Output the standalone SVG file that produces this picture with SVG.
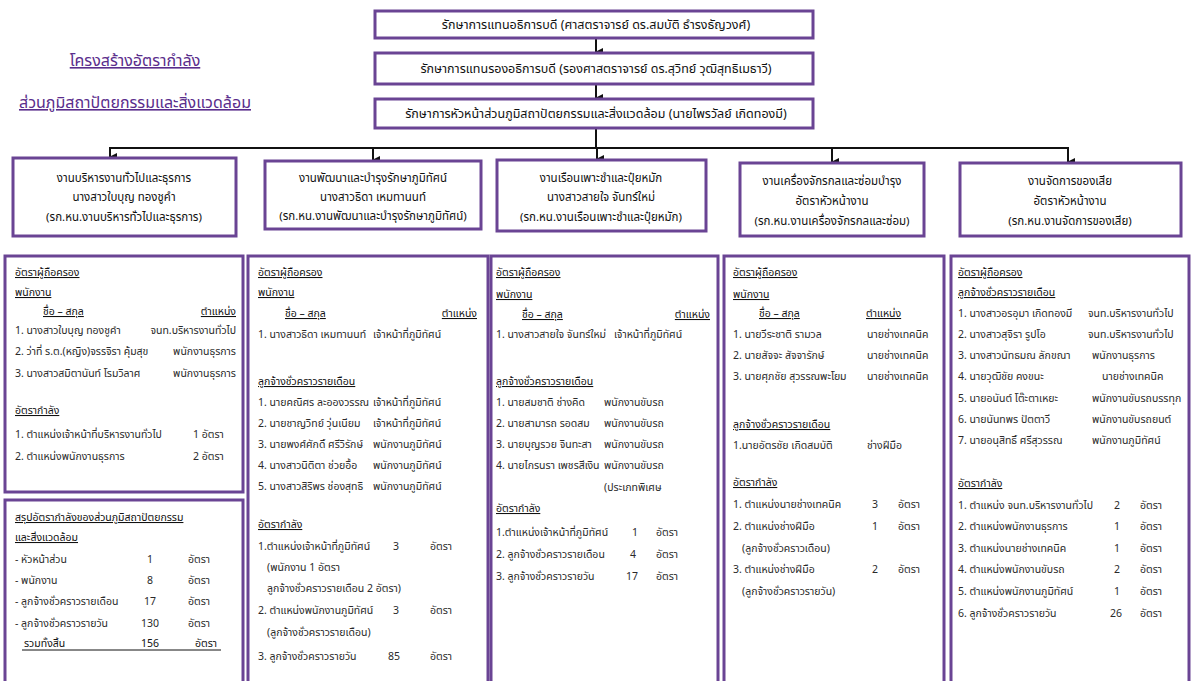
<svg xmlns="http://www.w3.org/2000/svg" width="1196" height="681" viewBox="0 0 1196 681">
<defs>
<marker id="ah" markerWidth="8" markerHeight="8" refX="4" refY="7" orient="auto" markerUnits="userSpaceOnUse" viewBox="0 0 8 8">
<path d="M0,0 L8,0 L4,8 Z" fill="#111"/>
</marker>
<style>
text{font-family:"Noto Sans Thai","Noto Sans","Liberation Sans",sans-serif;fill:#2a2a2a;font-size:10.5px}
.box{fill:#fff;stroke:#6a4494;stroke-width:3}
.top{font-size:12.5px;fill:#111}
.hd{font-size:11.5px;fill:#111}
.ttl{font-size:16px;fill:#5a2d8c;text-decoration:underline}
.u{text-decoration:underline;fill:#111}
.c{text-anchor:middle}
.e{text-anchor:end}
.ln{stroke:#111;stroke-width:2;fill:none}
</style>
</defs>
<rect width="1196" height="681" fill="#fff"/>

<g id="title">
<text class="ttl c" x="135" y="66">โครงสร้างอัตรากำลัง</text>
<text class="ttl c" x="135" y="108">ส่วนภูมิสถาปัตยกรรมและสิ่งแวดล้อม</text>
</g>

<g id="connectors">
<line class="ln" x1="596" y1="38" x2="596" y2="52" marker-end="url(#ah)"/>
<line class="ln" x1="596" y1="84" x2="596" y2="98" marker-end="url(#ah)"/>
<line class="ln" x1="596" y1="128" x2="596" y2="148"/>
<line class="ln" x1="110" y1="148" x2="1068" y2="148"/>
<line class="ln" x1="110" y1="147" x2="110" y2="157" marker-end="url(#ah)"/>
<line class="ln" x1="373" y1="147" x2="373" y2="160" marker-end="url(#ah)"/>
<line class="ln" x1="597" y1="147" x2="597" y2="159" marker-end="url(#ah)"/>
<line class="ln" x1="832" y1="147" x2="832" y2="162" marker-end="url(#ah)"/>
<line class="ln" x1="1068" y1="147" x2="1068" y2="162" marker-end="url(#ah)"/>
</g>

<g id="n-top1">
<rect class="box" x="375" y="11" width="438" height="27"/>
<text class="top c" x="596" y="29">รักษาการแทนอธิการบดี (ศาสตราจารย์ ดร.สมบัติ  ธำรงธัญวงศ์)</text>
</g>
<g id="n-top2">
<rect class="box" x="375" y="53" width="438" height="31"/>
<text class="top c" x="596" y="73">รักษาการแทนรองอธิการบดี (รองศาสตราจารย์ ดร.สุวิทย์  วุฒิสุทธิเมธาวี)</text>
</g>
<g id="n-top3">
<rect class="box" x="375" y="99" width="438" height="29"/>
<text class="top c" x="596" y="118">รักษาการหัวหน้าส่วนภูมิสถาปัตยกรรมและสิ่งแวดล้อม (นายไพรวัลย์  เกิดทองมี)</text>
</g>

<g id="n-a">
<rect class="box" x="13" y="158" width="223" height="78"/>
<text class="hd c" x="124" y="182">งานบริหารงานทั่วไปและธุรการ</text>
<text class="hd c" x="124" y="201">นางสาวใบบุญ  ทองชูคำ</text>
<text class="hd c" x="124" y="221">(รก.หน.งานบริหารทั่วไปและธุรการ)</text>
</g>
<g id="n-b">
<rect class="box" x="265" y="161" width="216" height="68"/>
<text class="hd c" x="373" y="182">งานพัฒนาและบำรุงรักษาภูมิทัศน์</text>
<text class="hd c" x="373" y="201">นางสาวธิดา  เหมทานนท์</text>
<text class="hd c" x="373" y="220">(รก.หน.งานพัฒนาและบำรุงรักษาภูมิทัศน์)</text>
</g>
<g id="n-c">
<rect class="box" x="497" y="160" width="209" height="71"/>
<text class="hd c" x="601" y="182">งานเรือนเพาะชำและปุ๋ยหมัก</text>
<text class="hd c" x="601" y="201">นางสาวสายใจ  จันทร์ใหม่</text>
<text class="hd c" x="601" y="221">(รก.หน.งานเรือนเพาะชำและปุ๋ยหมัก)</text>
</g>
<g id="n-d">
<rect class="box" x="740" y="163" width="184" height="73"/>
<text class="hd c" x="832" y="185">งานเครื่องจักรกลและซ่อมบำรุง</text>
<text class="hd c" x="832" y="205">อัตราหัวหน้างาน</text>
<text class="hd c" x="832" y="225">(รก.หน.งานเครื่องจักรกลและซ่อม)</text>
</g>
<g id="n-e">
<rect class="box" x="960" y="163" width="221" height="73"/>
<text class="hd c" x="1070" y="185">งานจัดการของเสีย</text>
<text class="hd c" x="1070" y="205">อัตราหัวหน้างาน</text>
<text class="hd c" x="1070" y="225">(รก.หน.งานจัดการของเสีย)</text>
</g>

<g id="col1">
<rect class="box" x="5" y="256" width="238" height="236"/>
<text class="u" x="15" y="276">อัตราผู้ถือครอง</text>
<text class="u" x="15" y="296">พนักงาน</text>
<text class="u" x="43" y="315">ชื่อ – สกุล</text>
<text class="u e" x="236" y="315">ตำแหน่ง</text>
<text x="15" y="334">1. นางสาวใบบุญ  ทองชูคำ</text><text class="e" x="236" y="334">จนท.บริหารงานทั่วไป</text>
<text x="15" y="355">2. ว่าที่ ร.ต.(หญิง)จรรจิรา  คุ้มสุข</text><text class="e" x="236" y="355">พนักงานธุรการ</text>
<text x="15" y="377">3. นางสาวสมิตานันท์  โรมวิลาศ</text><text class="e" x="236" y="377">พนักงานธุรการ</text>
<text class="u" x="15" y="414">อัตรากำลัง</text>
<text x="15" y="438">1. ตำแหน่งเจ้าหน้าที่บริหารงานทั่วไป</text><text x="193" y="438">1 อัตรา</text>
<text x="15" y="460">2. ตำแหน่งพนักงานธุรการ</text><text x="193" y="460">2 อัตรา</text>
</g>

<g id="col1-summary">
<rect class="box" x="5" y="500" width="238" height="190"/>
<text class="u" x="15" y="521">สรุปอัตรากำลังของส่วนภูมิสถาปัตยกรรม</text>
<text class="u" x="15" y="541">และสิ่งแวดล้อม</text>
<text x="15" y="563">- หัวหน้าส่วน</text><text class="c" x="150" y="563">1</text><text x="188" y="563">อัตรา</text>
<text x="15" y="584">- พนักงาน</text><text class="c" x="150" y="584">8</text><text x="188" y="584">อัตรา</text>
<text x="15" y="605">- ลูกจ้างชั่วคราวรายเดือน</text><text class="c" x="150" y="605">17</text><text x="188" y="605">อัตรา</text>
<text x="15" y="627">- ลูกจ้างชั่วคราวรายวัน</text><text class="c" x="150" y="627">130</text><text x="188" y="627">อัตรา</text>
<text x="24" y="647" style="fill:#111">รวมทั้งสิ้น</text><text class="c" x="150" y="647" style="fill:#111">156</text><text x="195" y="647" style="fill:#111">อัตรา</text>
<line x1="22" y1="650" x2="221" y2="650" stroke="#111" stroke-width="1"/>
</g>

<g id="col2">
<rect class="box" x="248" y="256" width="240" height="434"/>
<text class="u" x="258" y="276">อัตราผู้ถือครอง</text>
<text class="u" x="258" y="296">พนักงาน</text>
<text class="u" x="285" y="317">ชื่อ – สกุล</text>
<text class="u e" x="477" y="317">ตำแหน่ง</text>
<text x="258" y="338">1. นางสาวธิดา  เหมทานนท์</text><text x="373" y="338">เจ้าหน้าที่ภูมิทัศน์</text>
<text class="u" x="258" y="385">ลูกจ้างชั่วคราวรายเดือน</text>
<text x="258" y="406">1. นายคณิศร  ละอองวรรณ</text><text x="373" y="406">เจ้าหน้าที่ภูมิทัศน์</text>
<text x="258" y="427">2. นายชาญวิทย์  วุ่นเนียม</text><text x="373" y="427">เจ้าหน้าที่ภูมิทัศน์</text>
<text x="258" y="448">3. นายพงศ์ศักดิ์  ศรีวิรักษ์</text><text x="373" y="448">พนักงานภูมิทัศน์</text>
<text x="258" y="469">4. นางสาวนิติตา ช่วยอื้อ</text><text x="373" y="469">พนักงานภูมิทัศน์</text>
<text x="258" y="490">5. นางสาวสิริพร  ช่องสุทธิ</text><text x="373" y="490">พนักงานภูมิทัศน์</text>
<text class="u" x="258" y="528">อัตรากำลัง</text>
<text x="258" y="550">1.ตำแหน่งเจ้าหน้าที่ภูมิทัศน์</text><text x="393" y="550">3</text><text x="430" y="550">อัตรา</text>
<text x="267" y="571">(พนักงาน 1 อัตรา</text>
<text x="267" y="592">ลูกจ้างชั่วคราวรายเดือน 2 อัตรา)</text>
<text x="258" y="614">2. ตำแหน่งพนักงานภูมิทัศน์</text><text x="393" y="614">3</text><text x="430" y="614">อัตรา</text>
<text x="267" y="636">(ลูกจ้างชั่วคราวรายเดือน)</text>
<text x="258" y="660">3. ลูกจ้างชั่วคราวรายวัน</text><text x="388" y="660">85</text><text x="430" y="660">อัตรา</text>
</g>

<g id="col3">
<rect class="box" x="491" y="256" width="227" height="434"/>
<text class="u" x="496" y="276">อัตราผู้ถือครอง</text>
<text class="u" x="496" y="298">พนักงาน</text>
<text class="u" x="522" y="318">ชื่อ – สกุล</text>
<text class="u e" x="710" y="318">ตำแหน่ง</text>
<text x="496" y="338">1. นางสาวสายใจ  จันทร์ใหม่</text><text x="614" y="338">เจ้าหน้าที่ภูมิทัศน์</text>
<text class="u" x="496" y="385">ลูกจ้างชั่วคราวรายเดือน</text>
<text x="496" y="406">1. นายสมชาติ  ช่างคิด</text><text x="604" y="406">พนักงานขับรถ</text>
<text x="496" y="427">2. นายสามารถ  รอดสม</text><text x="604" y="427">พนักงานขับรถ</text>
<text x="496" y="448">3. นายบุญรวย  จินทะสา</text><text x="604" y="448">พนักงานขับรถ</text>
<text x="496" y="469">4. นายไกรนรา  เพชรสีเงิน</text><text x="604" y="469">พนักงานขับรถ</text>
<text x="604" y="491">(ประเภทพิเศษ</text>
<text class="u" x="496" y="512">อัตรากำลัง</text>
<text x="496" y="536">1.ตำแหน่งเจ้าหน้าที่ภูมิทัศน์</text><text x="632" y="536">1</text><text x="656" y="536">อัตรา</text>
<text x="496" y="558">2. ลูกจ้างชั่วคราวรายเดือน</text><text x="630" y="558">4</text><text x="656" y="558">อัตรา</text>
<text x="496" y="580">3. ลูกจ้างชั่วคราวรายวัน</text><text x="626" y="580">17</text><text x="656" y="580">อัตรา</text>
</g>

<g id="col4">
<rect class="box" x="724" y="256" width="220" height="434"/>
<text class="u" x="733" y="276">อัตราผู้ถือครอง</text>
<text class="u" x="733" y="298">พนักงาน</text>
<text class="u" x="759" y="317">ชื่อ – สกุล</text>
<text class="u" x="866" y="317">ตำแหน่ง</text>
<text x="733" y="338">1. นายวีระชาติ  รามวล</text><text x="867" y="338">นายช่างเทคนิค</text>
<text x="733" y="359">2. นายสัจจะ  สัจจารักษ์</text><text x="867" y="359">นายช่างเทคนิค</text>
<text x="733" y="380">3. นายศุภชัย  สุวรรณพะโยม</text><text x="867" y="380">นายช่างเทคนิค</text>
<text class="u" x="733" y="428">ลูกจ้างชั่วคราวรายเดือน</text>
<text x="733" y="449">1.นายอัตรชัย  เกิดสมบัติ</text><text x="867" y="449">ช่างฝีมือ</text>
<text class="u" x="733" y="486">อัตรากำลัง</text>
<text x="733" y="508">1. ตำแหน่งนายช่างเทคนิค</text><text x="872" y="508">3</text><text x="898" y="508">อัตรา</text>
<text x="733" y="530">2. ตำแหน่งช่างฝีมือ</text><text x="872" y="530">1</text><text x="898" y="530">อัตรา</text>
<text x="742" y="552">(ลูกจ้างชั่วคราวเดือน)</text>
<text x="733" y="573">3. ตำแหน่งช่างฝีมือ</text><text x="872" y="573">2</text><text x="898" y="573">อัตรา</text>
<text x="742" y="595">(ลูกจ้างชั่วคราวรายวัน)</text>
</g>

<g id="col5">
<rect class="box" x="951" y="256" width="238" height="434"/>
<text class="u" x="958" y="276">อัตราผู้ถือครอง</text>
<text class="u" x="958" y="296">ลูกจ้างชั่วคราวรายเดือน</text>
<text x="958" y="317">1. นางสาวอรอุมา  เกิดทองมี</text><text x="1088" y="317">จนท.บริหารงานทั่วไป</text>
<text x="958" y="338">2. นางสาวสุจิรา  รูปโอ</text><text x="1088" y="338">จนท.บริหารงานทั่วไป</text>
<text x="958" y="359">3. นางสาวนัทธมณ ลักขณา</text><text x="1092" y="359">พนักงานธุรการ</text>
<text x="958" y="380">4. นายวุฒิชัย คงขนะ</text><text x="1102" y="380">นายช่างเทคนิค</text>
<text x="958" y="402">5. นายอนันต์ โต๊ะตาเหยะ</text><text x="1092" y="402">พนักงานขับรถบรรทุก</text>
<text x="958" y="423">6. นายนันทพร ปัตตาวี</text><text x="1092" y="423">พนักงานขับรถยนต์</text>
<text x="958" y="444">7. นายอนุสิทธิ์ ศรีสุวรรณ</text><text x="1092" y="444">พนักงานภูมิทัศน์</text>
<text class="u" x="958" y="487">อัตรากำลัง</text>
<text x="958" y="509">1. ตำแหน่ง จนท.บริหารงานทั่วไป</text><text x="1114" y="509">2</text><text x="1140" y="509">อัตรา</text>
<text x="958" y="530">2. ตำแหน่งพนักงานธุรการ</text><text x="1114" y="530">1</text><text x="1140" y="530">อัตรา</text>
<text x="958" y="552">3. ตำแหน่งนายช่างเทคนิค</text><text x="1114" y="552">1</text><text x="1140" y="552">อัตรา</text>
<text x="958" y="573">4. ตำแหน่งพนักงานขับรถ</text><text x="1114" y="573">2</text><text x="1140" y="573">อัตรา</text>
<text x="958" y="595">5. ตำแหน่งพนักงานภูมิทัศน์</text><text x="1114" y="595">1</text><text x="1140" y="595">อัตรา</text>
<text x="958" y="617">6. ลูกจ้างชั่วคราวรายวัน</text><text x="1110" y="617">26</text><text x="1140" y="617">อัตรา</text>
</g>
</svg>
